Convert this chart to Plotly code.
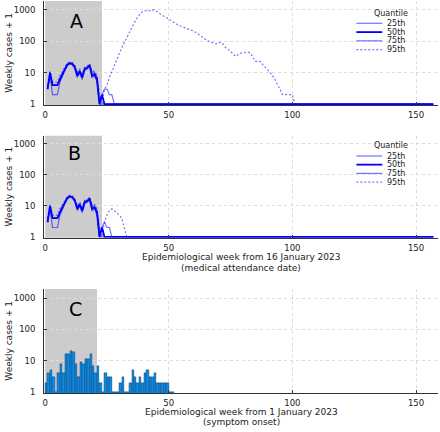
import plotly.graph_objects as go

# ---------------- data ----------------
N_WEEKS = 157
weeks = list(range(1, N_WEEKS + 1))

# Panel A (weekly cases + 1, quantiles) - values read for the active part, then flat at 1
A_q25_head = [3, 8, 2, 2, 2, 5, 8, 12, 17, 19, 18, 14, 7, 10, 6, 12, 13, 16, 7, 8, 5, 1, 1, 1]
A_q50_head = [3, 10, 4, 4, 4, 6, 9, 13, 18, 20, 19, 15, 8, 11, 7, 13, 14, 17, 8, 9, 6, 1, 2, 1]
A_q75_head = [3, 10, 4, 4, 4, 7, 10, 14, 19, 21, 20, 16, 9, 12, 8, 14, 15, 18, 10, 10, 7, 1, 2, 3, 3, 2, 2, 1]
A_q95_head = [4, 11, 5, 5, 5, 8, 11, 15, 20, 22, 21, 17, 10, 13, 9, 15, 16, 19, 11, 11, 8, 2,
              1, 3, 4, 7, 11, 18, 28, 43, 62, 89, 130, 182, 260, 380, 520, 690, 830, 930,
              950, 940, 930, 1000, 900, 780, 690, 620, 560, 520, 450, 400, 350, 320, 300, 280,
              265, 250, 230, 210, 190, 170, 150, 130, 112, 100, 93, 88, 82, 88, 93, 80, 62, 55,
              48, 40, 33, 37, 41, 43, 45, 45, 42, 30, 23, 23, 23, 18, 15, 12, 10, 8, 6, 4, 3, 2,
              2, 2, 2, 2, 1]

# Panel B
B_q25_head = [3, 8, 2, 2, 2, 5, 8, 12, 17, 19, 18, 14, 7, 10, 6, 12, 13, 16, 7, 8, 5, 1, 1, 1]
B_q50_head = [3, 10, 4, 4, 4, 6, 9, 13, 18, 20, 19, 15, 8, 11, 7, 13, 14, 17, 8, 9, 6, 1, 2, 1]
B_q75_head = [3, 10, 4, 4, 4, 7, 10, 14, 19, 21, 20, 16, 9, 12, 8, 14, 15, 18, 10, 10, 7, 1, 2, 3, 2, 2, 1]
B_q95_head = [4, 11, 5, 5, 5, 8, 11, 15, 20, 22, 21, 17, 10, 13, 9, 15, 16, 19, 11, 11, 8, 2,
              1, 3, 5, 7, 8, 7, 6, 5, 4, 2, 1]

def pad(head):
    return head + [1] * (N_WEEKS - len(head))

# Panel C (observed weekly cases + 1 by symptom onset week)
weeks_c = list(range(0, 52))
cases_c = [2, 4, 5, 3, 1, 4, 8, 4, 16, 16,
           20, 19, 8, 3, 9, 8, 11, 11, 17, 7,
           4, 7, 2, 1, 4, 3, 3, 1, 1, 1,
           2, 3, 1, 1, 2, 5, 3, 2, 3, 2,
           4, 5, 3, 3, 4, 2, 2, 2, 2, 2,
           1, 1]

quantile_names = ["25th", "50th", "75th", "95th"]
shade_end = [23, 23, 21]          # end of grey shaded period, per panel
panel_letters = ["A", "B", "C"]
x_ticks = [0, 50, 100, 150]
y_ticks = [1, 10, 100, 1000]
y_ticktext = ["1", "10", "100", "1000"]
x_title_lines = [
    ["Epidemiological week from 16 January 2023", "(medical attendance date)"],
    ["Epidemiological week from 1 January 2023", "(symptom onset)"],
]

# ---------------- style ----------------
W, H = 440, 432
FONT = "DejaVu Sans"
light = "rgba(0,0,255,0.55)"
dark = "rgb(0,0,255)"
styles = {
    "25th": dict(color=light, width=1.2, dash="solid"),
    "50th": dict(color=dark, width=1.8, dash="solid"),
    "75th": dict(color=light, width=1.2, dash="solid"),
    "95th": dict(color=light, width=1.2, dash="2px,2px"),
}

# pixel geometry of the three plot areas (top, bottom)
x_left_px, x_right_px = 42.3, 438.3
panels_px = [(1, 106), (137, 240), (291.7, 396.7)]
y_ranges = [[-0.03, 3.28], [-0.03, 3.26], [-0.03, 3.29]]

fig = go.Figure()

series = [
    [pad(A_q25_head), pad(A_q50_head), pad(A_q75_head), pad(A_q95_head)],
    [pad(B_q25_head), pad(B_q50_head), pad(B_q75_head), pad(B_q95_head)],
]

for p, qs in enumerate(series):
    xa = "x" if p == 0 else f"x{p+1}"
    ya = "y" if p == 0 else f"y{p+1}"
    for name, vals in zip(quantile_names, qs):
        st = styles[name]
        fig.add_trace(go.Scatter(
            x=weeks, y=vals, mode="lines", name=name, showlegend=False,
            line=dict(color=st["color"], width=st["width"], dash=st["dash"]),
            xaxis=xa, yaxis=ya, hoverinfo="skip"))

fig.add_trace(go.Bar(
    x=weeks_c, y=cases_c, width=1, offset=0, showlegend=False,
    marker=dict(color="#0b8ae8", line=dict(color="rgba(30,30,30,0.85)", width=0.35)),
    xaxis="x3", yaxis="y3", hoverinfo="skip"))

layout = dict(
    width=W, height=H, margin=dict(l=0, r=0, t=0, b=0),
    paper_bgcolor="white", plot_bgcolor="white",
    font=dict(family=FONT, size=8, color="#222"),
    bargap=0, showlegend=False,
)

shapes = []
annotations = []
for i, (top, bot) in enumerate(panels_px):
    sfx = "" if i == 0 else str(i + 1)
    dom_y = [1 - bot / H, 1 - top / H]
    layout[f"xaxis{sfx}"] = dict(
        domain=[x_left_px / W, x_right_px / W], range=[-0.4, 159],
        anchor=f"y{sfx}", tickvals=x_ticks, ticks="inside", ticklen=3,
        tickcolor="#333", showline=True, linecolor="#333", linewidth=1,
        showgrid=True, gridcolor="#dcdcdc", griddash="dot", gridwidth=1,
        zeroline=False, tickfont=dict(size=8.5, family=FONT, color="#222"),
        ticklabelstandoff=2)
    layout[f"yaxis{sfx}"] = dict(
        domain=dom_y, type="log", range=y_ranges[i],
        anchor=f"x{sfx}", tickvals=y_ticks, ticktext=y_ticktext,
        ticks="inside", ticklen=3, tickcolor="#333",
        showline=True, linecolor="#333", linewidth=1,
        showgrid=True, gridcolor="#dcdcdc", griddash="dot", gridwidth=1,
        zeroline=False, tickfont=dict(size=8.5, family=FONT, color="#222"),
        ticklabelstandoff=6)
    # grey shaded period
    shapes.append(dict(type="rect", xref=f"x{sfx}", yref=f"y{sfx} domain",
                       x0=0, x1=shade_end[i], y0=0, y1=1,
                       fillcolor="#cccccc", line=dict(width=0), layer="below"))
    # y-axis title
    annotations.append(dict(text="Weekly cases + 1", xref="paper", yref="paper",
                            x=6.7 / W, y=1 - (top + bot) / 2 / H, textangle=-90,
                            showarrow=False, font=dict(size=9, family=FONT, color="#222"),
                            xanchor="center", yanchor="middle"))

# panel letters
letter_pos = [(74.7, 21.7), (72.8, 154), (74, 311.7)]
for letter, (px, py) in zip(panel_letters, letter_pos):
    annotations.append(dict(text=letter, xref="paper", yref="paper",
                            x=px / W, y=1 - py / H, showarrow=False,
                            font=dict(size=19, family=FONT, color="black"),
                            xanchor="center", yanchor="middle"))

# x-axis titles (two lines each)
x_title_y = [(259.3, 270.0), (415.5, 426.0)]
for lines, ys in zip(x_title_lines, x_title_y):
    for txt, py in zip(lines, ys):
        annotations.append(dict(text=txt, xref="paper", yref="paper",
                                x=240.3 / W, y=1 - py / H, showarrow=False,
                                font=dict(size=9, family=FONT, color="#222"),
                                xanchor="center", yanchor="middle"))

# legends (drawn as key lines + text) for panels A and B
legend_rows = [[23.5, 32.4, 41.2, 50.0], [157.5, 166.2, 175.0, 183.8]]
legend_titles_y = [13.8, 147.0]
for rows, ty in zip(legend_rows, legend_titles_y):
    annotations.append(dict(text="Quantile", xref="paper", yref="paper",
                            x=373 / W, y=1 - ty / H, showarrow=False,
                            font=dict(size=8, family=FONT, color="#222"),
                            xanchor="left", yanchor="middle", borderpad=0))
    for name, ry in zip(quantile_names, rows):
        st = styles[name]
        shapes.append(dict(type="line", xref="paper", yref="paper",
                           x0=356 / W, x1=382 / W, y0=1 - ry / H, y1=1 - ry / H,
                           line=dict(color=st["color"], width=st["width"], dash=st["dash"])))
        annotations.append(dict(text=name, xref="paper", yref="paper",
                                x=386 / W, y=1 - ry / H, showarrow=False,
                                font=dict(size=8, family=FONT, color="#222"),
                                xanchor="left", yanchor="middle", borderpad=0))

layout["shapes"] = shapes
layout["annotations"] = annotations
fig.update_layout(**layout)

fig.write_html("out.html",
               config={"displayModeBar": False},
               post_script="document.body.style.margin='0';document.body.style.overflow='hidden';")
